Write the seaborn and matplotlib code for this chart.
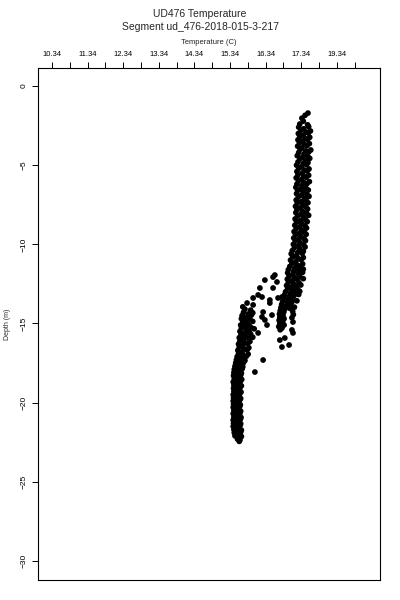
import numpy as np
import pandas as pd
import seaborn as sns
import matplotlib
matplotlib.use("Agg")
import matplotlib.pyplot as plt

# upper (warm) column: depth (m) and temperature (C)
upper_depth = [-1.71, -1.85, -2.03, -2.22,
               -2.40, -2.45,
               -2.60, -2.70, -2.57, -2.80, -2.91, -2.84, -3.00, -3.10, -2.97,
               -3.20, -3.31, -3.24, -3.40, -3.49, -3.37, -3.60, -3.70, -3.64,
               -3.80, -3.91, -3.77, -4.00, -4.10, -4.04, -4.20, -4.29, -4.17,
               -4.40, -4.51, -4.44, -4.60, -4.70, -4.57, -4.80, -4.89, -4.84,
               -5.00, -5.10, -4.97, -5.20, -5.31, -5.24, -5.40, -5.50, -5.37,
               -5.60, -5.69, -5.64, -5.80, -5.91, -5.77, -6.00, -6.10, -6.04,
               -6.20, -6.29, -6.17, -6.40, -6.51, -6.44, -6.60, -6.70, -6.57,
               -6.80, -6.89, -6.84, -7.00, -7.10, -6.97, -7.20, -7.31, -7.24,
               -7.40, -7.50, -7.37, -7.60, -7.69, -7.64, -7.80, -7.91, -7.77,
               -8.00, -8.10, -8.04, -8.20, -8.29, -8.17, -8.40, -8.51, -8.44,
               -8.60, -8.70, -8.57, -8.80, -8.89, -8.84, -9.00, -9.10, -8.97,
               -9.20, -9.31, -9.24, -9.40, -9.50, -9.37, -9.60, -9.69, -9.64,
               -9.80, -9.91, -9.77, -10.00, -10.10, -10.04, -10.20, -10.29, -10.17,
               -10.40, -10.51, -10.44, -10.60, -10.70, -10.57, -10.80, -10.89, -10.84,
               -11.00, -11.10, -10.97, -11.20, -11.31, -11.24, -11.40, -11.50, -11.37,
               -11.60, -11.69, -11.64, -11.57, -11.80, -11.91, -11.84, -11.77,
               -12.00, -12.10, -12.04, -12.20, -12.29, -12.24, -12.17,
               -12.40, -12.51, -12.44, -12.60, -12.70, -12.64, -12.57,
               -12.80, -12.89, -12.84, -13.00, -13.10, -13.04, -12.97,
               -13.20, -13.31, -13.24, -13.17, -13.40, -13.50, -13.44,
               -13.60, -13.69, -13.64, -13.57, -13.80, -13.91, -13.84,
               -14.00, -14.10, -14.04, -13.97, -14.20, -14.29, -14.24,
               -14.40, -14.51, -14.44, -14.60, -14.70, -14.64,
               -14.80, -14.89, -15.00, -15.10, -15.20, -15.29, -15.40]
upper_temp = [17.53, 17.45, 17.36, 17.40,
              17.30, 17.52,
              17.27, 17.41, 17.55, 17.33, 17.48, 17.60, 17.26, 17.40, 17.54,
              17.30, 17.45, 17.58, 17.25, 17.38, 17.52, 17.29, 17.44, 17.57,
              17.24, 17.36, 17.50, 17.31, 17.47, 17.61, 17.27, 17.42, 17.55,
              17.23, 17.37, 17.52, 17.30, 17.46, 17.58, 17.25, 17.40, 17.53,
              17.21, 17.35, 17.49, 17.27, 17.43, 17.56, 17.22, 17.37, 17.51,
              17.25, 17.41, 17.55, 17.20, 17.34, 17.48, 17.26, 17.42, 17.57,
              17.22, 17.36, 17.50, 17.19, 17.33, 17.47, 17.24, 17.40, 17.54,
              17.21, 17.35, 17.50, 17.26, 17.43, 17.56, 17.20, 17.34, 17.48,
              17.23, 17.39, 17.53, 17.18, 17.32, 17.47, 17.22, 17.37, 17.52,
              17.19, 17.34, 17.49, 17.24, 17.40, 17.55, 17.17, 17.31, 17.46,
              17.21, 17.36, 17.51, 17.16, 17.30, 17.45, 17.20, 17.35, 17.49,
              17.14, 17.28, 17.43, 17.18, 17.33, 17.48, 17.13, 17.27, 17.42,
              17.17, 17.31, 17.46, 17.12, 17.26, 17.41, 17.15, 17.30, 17.45,
              17.09, 17.24, 17.40, 17.06, 17.21, 17.37, 17.10, 17.25, 17.40,
              17.04, 17.19, 17.34, 17.08, 17.22, 17.38, 17.02, 17.16, 17.31,
              16.98, 17.13, 17.28, 17.40, 16.96, 17.10, 17.25, 17.38,
              17.00, 17.15, 17.30, 16.95, 17.09, 17.24, 17.40,
              16.98, 17.13, 17.28, 16.93, 17.06, 17.20, 17.33,
              16.96, 17.10, 17.24, 16.90, 17.04, 17.18, 17.30,
              16.87, 17.00, 17.14, 17.27, 16.84, 16.97, 17.10,
              16.82, 16.95, 17.08, 17.22, 16.79, 16.92, 17.05,
              16.77, 16.88, 17.02, 17.15, 16.75, 16.85, 17.10,
              16.73, 16.83, 17.12, 16.74, 16.86, 17.08,
              16.72, 16.82, 16.74, 16.86, 16.71, 16.80, 16.75]

# scattered points between the two branches
mid_depth = [-11.94, -12.07, -12.26, -12.38, -12.76, -12.76, -13.20, -13.39,
             -13.33, -13.39, -13.33, -13.52, -13.71, -14.28, -14.47, -14.59,
             -14.78, -15.10, -14.91, -15.41, -15.60, -15.60, -17.31, -18.07,
             -15.92, -16.05, -16.36, -16.49]
mid_temp = [16.60, 16.55, 16.32, 16.66, 16.55, 16.18, 16.13, 15.99,
            16.24, 16.69, 16.80, 16.46, 16.46, 16.27, 16.52, 16.24,
            16.32, 16.38, 17.11, 17.08, 17.11, 16.13, 16.27, 16.04,
            16.88, 16.74, 17.00, 16.80]

# lower (cool) column
lower_depth = [-13.71, -13.83, -13.95, -14.10, -14.16,
               -14.30, -14.40, -14.33, -14.50, -14.61, -14.47, -14.70, -14.79, -14.74,
               -14.90, -15.01, -14.87, -15.10, -15.20, -15.14,
               -15.30, -15.39, -15.27, -15.34, -15.50, -15.61, -15.54,
               -15.70, -15.80, -15.67, -15.90, -15.99, -15.94, -15.87,
               -16.10, -16.21, -16.14, -16.30, -16.40, -16.27, -16.50, -16.59, -16.54,
               -16.70, -16.81, -16.67, -16.90, -17.00, -16.94, -17.10, -17.19, -17.07,
               -17.30, -17.41, -17.34, -17.50, -17.60, -17.47, -17.70, -17.79, -17.74,
               -17.90, -18.01, -17.87, -18.10, -18.20, -18.14, -18.30, -18.39, -18.27,
               -18.50, -18.61, -18.54, -18.70, -18.80, -18.67, -18.90, -18.99, -18.94,
               -19.10, -19.21, -19.07, -19.30, -19.40, -19.34, -19.50, -19.59, -19.47,
               -19.70, -19.81, -19.74, -19.90, -20.00, -19.87, -20.10, -20.19, -20.14,
               -20.30, -20.41, -20.27, -20.50, -20.60, -20.54, -20.70, -20.79, -20.67,
               -20.90, -21.01, -20.94, -21.10, -21.20, -21.07, -21.30, -21.39, -21.34,
               -21.50, -21.61, -21.47, -21.70, -21.80, -21.74, -21.90, -21.99, -21.87,
               -22.10, -22.20, -22.14, -22.30, -22.36, -22.45]
lower_temp = [15.82, 15.99, 15.70, 15.76, 15.92,
              15.72, 15.86, 15.98, 15.68, 15.80, 15.94, 15.66, 15.78, 15.90,
              15.70, 15.84, 15.98, 15.64, 15.76, 15.88,
              15.66, 15.80, 15.94, 16.02, 15.62, 15.74, 15.88,
              15.65, 15.78, 15.92, 15.60, 15.72, 15.86, 15.98,
              15.62, 15.75, 15.90, 15.58, 15.70, 15.84, 15.60, 15.73, 15.87,
              15.56, 15.68, 15.82, 15.58, 15.70, 15.85, 15.54, 15.66, 15.80,
              15.52, 15.64, 15.76, 15.50, 15.62, 15.72, 15.48, 15.60, 15.70,
              15.46, 15.57, 15.68, 15.45, 15.56, 15.66, 15.44, 15.54, 15.64,
              15.46, 15.57, 15.67, 15.43, 15.53, 15.63, 15.45, 15.56, 15.66,
              15.44, 15.53, 15.62, 15.45, 15.55, 15.65, 15.43, 15.52, 15.61,
              15.44, 15.54, 15.64, 15.43, 15.52, 15.61, 15.44, 15.53, 15.63,
              15.43, 15.52, 15.61, 15.45, 15.54, 15.64, 15.43, 15.52, 15.62,
              15.45, 15.55, 15.65, 15.43, 15.52, 15.63, 15.44, 15.54, 15.64,
              15.43, 15.53, 15.62, 15.45, 15.55, 15.66, 15.46, 15.56, 15.64,
              15.48, 15.58, 15.66, 15.55, 15.62, 15.60]

tick_pos = [10.34 + 0.5 * k for k in range(18)]
label_pos = [10.34, 11.34, 12.34, 13.34, 14.34, 15.34, 16.34, 17.34, 18.34]
label_txt = ["10.34", "11.34", "12.34", "13.34", "14.34", "15.34", "16.34", "17.34", "19.34"]
depth_ticks = [0, -5, -10, -15, -20, -25, -30]

df = pd.DataFrame({
    "temp": upper_temp + mid_temp + lower_temp,
    "depth": upper_depth + mid_depth + lower_depth,
})

sns.set_style("white")
plt.rcParams["font.family"] = ["Liberation Sans", "DejaVu Sans"]

fig = plt.figure(figsize=(4, 6), dpi=100)
ax = fig.add_axes([0.095, 0.0333, 0.855, 0.8533])
sns.scatterplot(data=df, x="temp", y="depth", color="black", s=17,
                edgecolor="none", linewidth=0, ax=ax)

ax.set_xlim(9.947, 19.554)
ax.set_ylim(-31.21, 1.137)

# temperature axis on top
ax.xaxis.tick_top()
ax.xaxis.set_label_position("top")
ax.set_xticks(label_pos, minor=False)
ax.set_xticklabels(label_txt)
ax.set_xticks(tick_pos, minor=True)
ax.tick_params(axis="x", which="both", direction="out", length=4.3, width=0.7,
               top=True, bottom=False, labelsize=5.5, pad=3, colors="black")
ax.set_xlabel("Temperature (C)", fontsize=5.5, labelpad=5)

ax.set_yticks(depth_ticks)
ax.set_yticklabels(["\u2212" + str(abs(d)) if d < 0 else str(d) for d in depth_ticks],
                   rotation=90, va="center")
ax.tick_params(axis="y", direction="out", length=4.3, width=0.7, left=True,
               labelsize=6, pad=3, colors="black")
ax.set_ylabel("Depth (m)", fontsize=5, labelpad=7)

for sp in ax.spines.values():
    sp.set_visible(True)
    sp.set_color("black")
    sp.set_linewidth(0.8)

fig.text(0.5, 1 - 14 / 600, "UD476 Temperature", ha="center", va="center", fontsize=7.5)
fig.text(0.5, 1 - 27 / 600, "Segment ud_476-2018-015-3-217", ha="center", va="center", fontsize=7.5)

fig.savefig("out.png", dpi=100)
